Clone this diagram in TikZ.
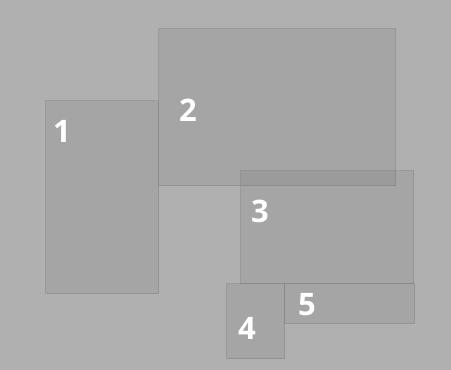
\documentclass[tikz,border=0pt]{standalone}
\usepackage{fontspec}
\setmainfont{Open Sans}
\usepackage{tikz}
\usetikzlibrary{positioning,backgrounds}
\usepackage{xcolor}
\definecolor{bggray}{RGB}{176,176,176}
\definecolor{edgegray}{RGB}{128,128,128}

\begin{document}
\begin{tikzpicture}[x=1pt, y=-1pt,
    area/.style={rectangle, draw=edgegray, draw opacity=0.45, fill=black, fill opacity=0.06, line width=1.2pt, anchor=north west, inner sep=0pt},
    num/.style={text=white, font=\bfseries\fontsize{31}{31}\selectfont, inner sep=0pt}]

    % Background
    \fill[bggray] (0,0) rectangle (451,370);
    \useasboundingbox (0,0) rectangle (451,370);

    % Areas
    \node[area, minimum width=113pt, minimum height=193pt] (a1) at (45,100) {};
    \node[area, minimum width=237pt, minimum height=157pt] (a2) at (158,28) {};
    \node[area, minimum width=173pt, minimum height=113pt] (a3) at (240,170) {};
    \node[area, minimum width=58pt, minimum height=75pt] (a4) at (226,283) {};
    \node[area, minimum width=130pt, minimum height=40pt] (a5) at (284,283) {};

    % Numbers
    \node[num] (n1) at (62,131) {1};
    \node[num] (n2) at (188,110) {2};
    \node[num] (n3) at (260,211) {3};
    \node[num] (n4) at (247,328) {4};
    \node[num] (n5) at (307,305) {5};
\end{tikzpicture}
\end{document}
